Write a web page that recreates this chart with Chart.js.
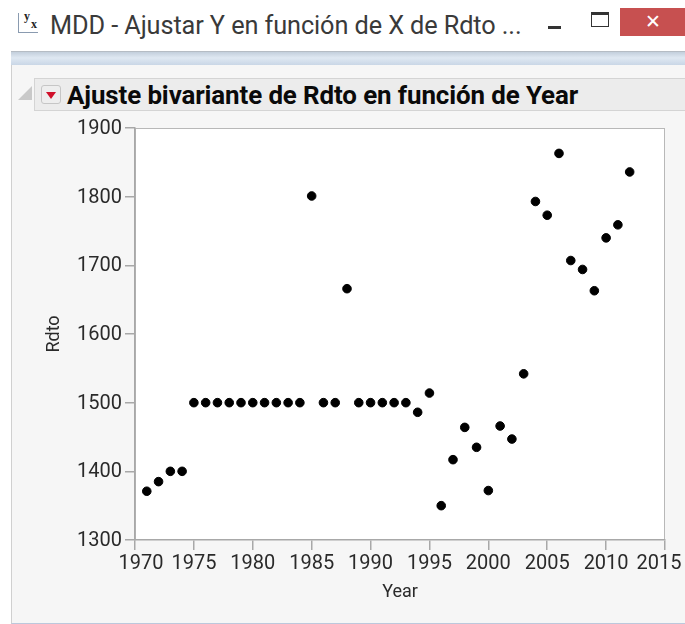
<!DOCTYPE html>
<html><head><meta charset="utf-8">
<script src="https://cdn.jsdelivr.net/npm/chart.js@4/dist/chart.umd.min.js"></script>
<style>
html,body{margin:0;padding:0;background:#fff;width:685px;height:624px;overflow:hidden;font-family:Roboto,sans-serif}
div,span{position:absolute;white-space:nowrap}
#panel{left:11px;top:65px;width:674px;height:558px;background:#f6f6f6;border-left:1px solid #d0d0d0;border-bottom:1px solid #bcc8dc}
#stripe{left:11px;top:51px;width:674px;height:13px;background:linear-gradient(#c3cfdc,#dfe8f2 45%,#c9d6e6);border-top:1px solid #b5bcc4}
#head{left:34px;top:78px;width:651px;height:33px;background:#ececec;border:1px solid #d4d4d4;border-right:none;box-sizing:border-box}
#win{left:50px;top:11px;font-size:25.3px;color:#3a3a3a;letter-spacing:-.1px}
#ttl{left:67px;top:80px;font-size:25.9px;font-weight:700;color:#0a0a0a;letter-spacing:-.1px}
#btn{left:41px;top:85px;width:20px;height:19px;background:#eee;border:1px solid #c6c6c6;border-radius:3px;box-sizing:border-box}
#btn:after{content:"";position:absolute;left:4px;top:6px;border:5.5px solid transparent;border-top:7px solid #d0102a;border-bottom:0}
#tri{left:18px;top:86px;width:0;height:0;border-left:14px solid transparent;border-bottom:14px solid #c9c9c9}
#close{left:620px;top:8px;width:65px;height:28px;background:#c75050;color:#fff;text-align:center;font-size:19px;line-height:27px}
#min{left:548px;top:26px;width:13px;height:3px;background:#333}
#max{left:591px;top:12px;width:16px;height:11px;border:1.5px solid #333;border-top-width:3px}
#ico{left:18px;top:13px;width:20px;height:20px;border-left:1.5px solid #8a9bb0;border-bottom:1.5px solid #8a9bb0;box-sizing:border-box}
#ico b{position:absolute;font:700 12px "Liberation Serif",serif;color:#222}
canvas{position:absolute;left:0;top:0}
</style></head><body>
<div id="ico"><b style="left:5px;top:-4px">y</b><b style="left:12px;top:4px">x</b></div>
<div id="win">MDD - Ajustar Y en función de X de Rdto ...</div>
<div id="min"></div><div id="max"></div><div id="close">✕</div>
<div id="stripe"></div><div id="panel"></div><div id="head"></div><div id="tri"></div><div id="btn"></div>
<div id="ttl">Ajuste bivariante de Rdto en función de Year</div>
<canvas id="c" width="685" height="624"></canvas>
<script>
const years=[1971,1972,1973,1974,1975,1976,1977,1978,1979,1980,1981,1982,1983,1984,1985,1986,1987,1988,1989,1990,1991,1992,1993,1994,1995,1996,1997,1998,1999,2000,2001,2002,2003,2004,2005,2006,2007,2008,2009,2010,2011,2012];
const rdto=[1371,1385,1400,1400,1500,1500,1500,1500,1500,1500,1500,1500,1500,1500,1801,1500,1500,1666,1500,1500,1500,1500,1500,1486,1514,1350,1417,1464,1435,1372,1466,1447,1542,1793,1773,1863,1707,1694,1663,1740,1759,1836];
const points=years.map((x,i)=>({x,y:rdto[i]}));
const tickFont={family:'Roboto',size:20};
const frame={id:'frame',beforeDraw(ch){
  const a=ch.chartArea,c=ch.ctx;
  c.save();c.fillStyle='#fff';c.fillRect(a.left,a.top,a.width,a.height);
  c.strokeStyle='#b8b8b8';c.lineWidth=1;
  c.strokeRect(a.left+.5,a.top+.5,a.width-1,a.height-1);c.restore();
  const it=ch.scales.x.getLabelItems();
  if(it.length&&!ch.$n){ch.$n=1;
    it[0].options.translation[0]+=6;it[it.length-1].options.translation[0]-=6;
    ch.scales.y.getLabelItems().forEach(l=>{l.options.translation[1]+=1});
  }
}};
new Chart(document.getElementById('c'),{type:'scatter',
 data:{datasets:[{data:points,backgroundColor:'#000',borderColor:'#000',pointRadius:4.3,pointHoverRadius:4.3}]},
 plugins:[frame],
 options:{responsive:false,animation:false,
  layout:{padding:{left:44,top:128,right:20,bottom:21}},
  plugins:{legend:{display:false},tooltip:{enabled:false}},
  scales:{
   x:{type:'linear',min:1970,max:2015,grid:{drawOnChartArea:false,drawTicks:true,tickLength:10,color:'#a8a8a8',lineWidth:1.5},border:{color:'#a8a8a8',width:1.5},
      afterFit(s){s.height=63;s.paddingLeft=0;s.paddingRight=0},
      afterBuildTicks(s){s.ticks=[];for(let v=1970;v<=2015;v+=5)s.ticks.push({value:v})},
      ticks:{color:'#2a2a2a',font:tickFont,padding:2,maxRotation:0,autoSkip:false,callback:v=>String(v)},
      title:{display:true,text:'Year',color:'#2a2a2a',font:{family:'Roboto',size:18},padding:{top:0,bottom:0}}},
   y:{type:'linear',min:1300,max:1900,grid:{drawOnChartArea:false,drawTicks:true,tickLength:10,color:'#a8a8a8',lineWidth:1.5},border:{color:'#a8a8a8',width:1.5},
      afterFit(s){s.width=91;s.paddingTop=0;s.paddingBottom=0},
      ticks:{color:'#2a2a2a',font:tickFont,stepSize:100,padding:3,callback:v=>String(v)},
      title:{display:true,text:'Rdto',color:'#2a2a2a',font:{family:'Roboto',size:18},padding:{top:0,bottom:0}}}
  }},
 });
</script>
</body></html>
